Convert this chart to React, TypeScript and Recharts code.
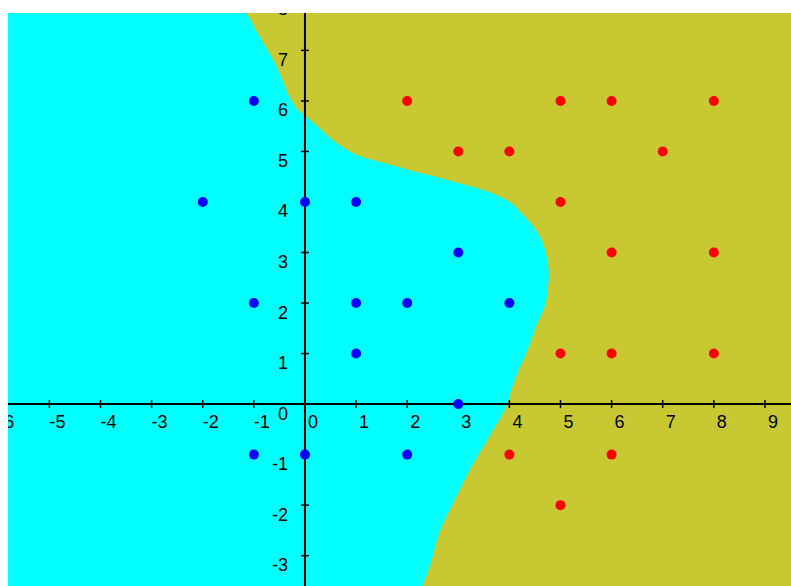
import React from "react";
import {
  ComposedChart,
  Area,
  Scatter,
  XAxis,
  YAxis,
  CartesianGrid,
  ReferenceLine,
} from "recharts";

// decision boundary, read from bottom to top (x where the cyan region ends)
const boundaryY = [
  -3.6, -3.22, -2.55, -1.9, -1.24, -0.57, 0.0, 0.22, 0.62, 0.93, 1.27, 1.61,
  1.92, 2.26, 2.6, 2.91, 3.25, 3.65, 3.78, 3.98, 4.11, 4.24, 4.37, 4.5, 4.63,
  4.77, 4.9, 5.03, 5.23, 5.43, 5.63, 5.83, 6.02, 6.36, 6.67, 7.01, 7.35, 7.74,
];
const boundaryX = [
  2.3, 2.44, 2.63, 2.93, 3.26, 3.65, 3.96, 4.02, 4.16, 4.3, 4.43, 4.55, 4.69,
  4.75, 4.77, 4.73, 4.63, 4.36, 4.23, 4.04, 3.81, 3.48, 3.03, 2.57, 2.05, 1.56,
  1.1, 0.83, 0.54, 0.32, 0.09, -0.14, -0.27, -0.42, -0.55, -0.73, -0.93, -1.14,
];

const blueX = [-1, -2, 0, 1, -1, 1, 2, 4, 3, 1, 3, -1, 0, 2];
const blueY = [6, 4, 4, 4, 2, 2, 2, 2, 3, 1, 0, -1, -1, -1];
const redX = [2, 5, 6, 8, 3, 4, 7, 5, 6, 8, 5, 6, 8, 4, 6, 5];
const redY = [6, 6, 6, 6, 5, 5, 5, 4, 3, 3, 1, 1, 1, -1, -1, -2];

const xTicks = [-6, -5, -4, -3, -2, -1, 0, 1, 2, 3, 4, 5, 6, 7, 8, 9];
const yTicks = [-3, -2, -1, 0, 1, 2, 3, 4, 5, 6, 7, 8];

const regionData = boundaryY.map((y, i) => ({ y, bx: boundaryX[i] }));
const bluePoints = blueX.map((x, i) => ({ x, y: blueY[i] }));
const redPoints = redX.map((x, i) => ({ x, y: redY[i] }));
const xTickData = xTicks.map((x) => ({ x, y: 0 }));
const yTickData = yTicks.map((y) => ({ x: 0, y }));

const labelFont = {
  fontFamily: "'Liberation Sans', Arial, sans-serif",
  fontSize: 18,
  fill: "#000",
};

function XTickMark(props: any) {
  const { cx, cy, payload } = props;
  return (
    <g>
      <line x1={cx} y1={cy - 4} x2={cx} y2={cy + 4} stroke="#000" strokeWidth={1.5} />
      <text x={cx + 8} y={cy + 24} textAnchor="middle" {...labelFont}>
        {payload.x}
      </text>
    </g>
  );
}

function YTickMark(props: any) {
  const { cx, cy, payload } = props;
  return (
    <g>
      <line x1={cx - 4} y1={cy} x2={cx + 4} y2={cy} stroke="#000" strokeWidth={1.5} />
      <text x={cx - 17} y={cy + 15.5} textAnchor="end" {...labelFont}>
        {payload.y}
      </text>
    </g>
  );
}

const dot = (color: string) => (props: any) =>
  <circle cx={props.cx} cy={props.cy} r={5} fill={color} />;

export default function App() {
  return (
    <div style={{ position: "fixed", left: 8, top: 8, width: 783, height: 578 }}>
      <ComposedChart
        width={783}
        height={578}
        layout="vertical"
        margin={{ top: 5, right: 0, bottom: 0, left: 0 }}
      >
        <CartesianGrid horizontal={false} vertical={false} fill="#C8C832" />
        <XAxis
          type="number"
          dataKey="x"
          domain={[-5.81, 9.51]}
          allowDataOverflow
          hide
        />
        {/* vertical layout puts the low end at the top, so flip it */}
        <YAxis
          type="number"
          dataKey="y"
          domain={[-3.6, 7.74]}
          allowDataOverflow
          reversed
          hide
        />
        <Area
          data={regionData}
          dataKey="bx"
          type="monotone"
          baseValue="dataMin"
          fill="#00FFFF"
          fillOpacity={1}
          stroke="none"
          isAnimationActive={false}
        />
        <ReferenceLine x={0} stroke="#000" strokeWidth={2} />
        <ReferenceLine y={0} stroke="#000" strokeWidth={2} />
        <Scatter data={xTickData} shape={XTickMark} isAnimationActive={false} />
        <Scatter data={yTickData} shape={YTickMark} isAnimationActive={false} />
        <Scatter data={bluePoints} shape={dot("#0000FF")} isAnimationActive={false} />
        <Scatter data={redPoints} shape={dot("#FF0000")} isAnimationActive={false} />
      </ComposedChart>
    </div>
  );
}
